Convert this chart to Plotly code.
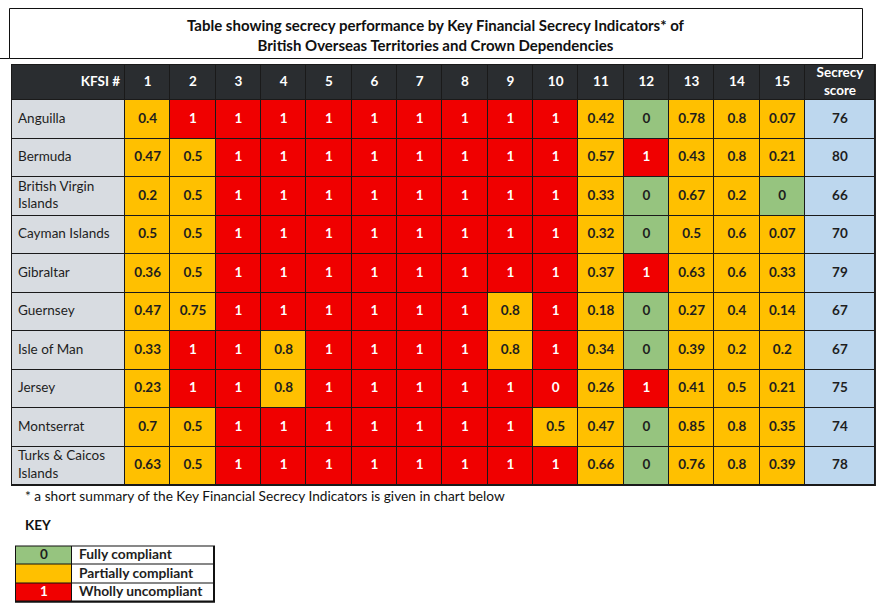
import plotly.graph_objects as go

# ---------------- data ----------------
countries = ["Anguilla", "Bermuda", "British Virgin<br>Islands", "Cayman Islands", "Gibraltar",
             "Guernsey", "Isle of Man", "Jersey", "Montserrat", "Turks & Caicos<br>Islands"]
kfsi_labels = [str(i) for i in range(1, 16)]
anguilla   = [0.4, 1, 1, 1, 1, 1, 1, 1, 1, 1, 0.42, 0, 0.78, 0.8, 0.07]
bermuda    = [0.47, 0.5, 1, 1, 1, 1, 1, 1, 1, 1, 0.57, 1, 0.43, 0.8, 0.21]
bvi        = [0.2, 0.5, 1, 1, 1, 1, 1, 1, 1, 1, 0.33, 0, 0.67, 0.2, 0]
cayman     = [0.5, 0.5, 1, 1, 1, 1, 1, 1, 1, 1, 0.32, 0, 0.5, 0.6, 0.07]
gibraltar  = [0.36, 0.5, 1, 1, 1, 1, 1, 1, 1, 1, 0.37, 1, 0.63, 0.6, 0.33]
guernsey   = [0.47, 0.75, 1, 1, 1, 1, 1, 1, 0.8, 1, 0.18, 0, 0.27, 0.4, 0.14]
isle_of_man = [0.33, 1, 1, 0.8, 1, 1, 1, 1, 0.8, 1, 0.34, 0, 0.39, 0.2, 0.2]
jersey     = [0.23, 1, 1, 0.8, 1, 1, 1, 1, 1, 0, 0.26, 1, 0.41, 0.5, 0.21]
montserrat = [0.7, 0.5, 1, 1, 1, 1, 1, 1, 1, 0.5, 0.47, 0, 0.85, 0.8, 0.35]
turks      = [0.63, 0.5, 1, 1, 1, 1, 1, 1, 1, 1, 0.66, 0, 0.76, 0.8, 0.39]
secrecy_scores = [76, 80, 66, 70, 79, 67, 67, 75, 74, 78]
# cells shown as wholly uncompliant regardless of printed value (row, KFSI #)
red_overrides = [("Jersey", 10)]

key_codes = ["0", "", "1"]
key_labels = ["Fully compliant", "Partially compliant", "Wholly uncompliant"]

title_lines = ["Table showing secrecy performance by Key Financial Secrecy Indicators* of",
               "British Overseas Territories and Crown Dependencies"]
footnote = "* a short summary of the Key Financial Secrecy Indicators is given in chart below"

# ---------------- layout constants ----------------
W, H = 883, 609
FONT = "Lato"
TBL_L = 12
NAME_W = 113
NUM_W = 45.33
SCORE_W = 70
HDR_T = 65
HDR_H = 35
ROW_H = 38.5

C_HDR = "#2a2d30"
C_NAME = "#d8dce1"
C_GREEN = "#96c47f"
C_ORANGE = "#ffc000"
C_RED = "#f00000"
C_BLUE = "#bdd7ee"
C_WHITE = "#ffffff"
C_TEXT = "#1e1e1e"

rows = [anguilla, bermuda, bvi, cayman, gibraltar, guernsey, isle_of_man, jersey, montserrat, turks]
plain_names = [c.replace("<br>", " ") for c in countries]

# column edges
x_edges = [TBL_L, TBL_L + NAME_W]
for _ in kfsi_labels:
    x_edges.append(x_edges[-1] + NUM_W)
x_edges.append(x_edges[-1] + SCORE_W)
y_edges = [HDR_T, HDR_T + HDR_H]
for _ in countries:
    y_edges.append(y_edges[-1] + ROW_H)
x_mid = [(a + b) / 2 for a, b in zip(x_edges[:-1], x_edges[1:])]
y_mid = [(a + b) / 2 for a, b in zip(y_edges[:-1], y_edges[1:])]

# categories: 0 header, 1 name, 2 green, 3 orange, 4 red, 5 blue, 6 white
palette = [C_HDR, C_NAME, C_GREEN, C_ORANGE, C_RED, C_BLUE, C_WHITE]
n_cat = len(palette)
colorscale = []
for k, c in enumerate(palette):
    lo = max(0, (k - 0.5) / (n_cat - 1))
    hi = min(1, (k + 0.5) / (n_cat - 1))
    colorscale += [[lo, c], [hi, c]]


def cat_of(v, name, k):
    if (name, k) in red_overrides:
        return 4
    if v == 0:
        return 2
    if v == 1:
        return 4
    return 3


z = [[0] * (len(kfsi_labels) + 2)]
for r, vals in enumerate(rows):
    line = [1] + [cat_of(v, plain_names[r], i + 1) for i, v in enumerate(vals)] + [5]
    z.append(line)

fig = go.Figure()

# dark grid lines behind the cells
fig.add_shape(type="rect", xref="x", yref="y", x0=x_edges[0] - 1, x1=x_edges[-1] + 1,
              y0=y_edges[0] - 1, y1=y_edges[-1] + 1, fillcolor="#1a1a1a", line_width=0, layer="below")

fig.add_trace(go.Heatmap(z=z, x=x_edges, y=y_edges, colorscale=colorscale, zmin=0, zmax=n_cat - 1,
                         showscale=False, xgap=1, ygap=1, hoverinfo="skip"))

# header text
hdr_text = ["KFSI #"] + kfsi_labels + ["Secrecy<br>score"]
fig.add_trace(go.Scatter(x=x_mid[1:], y=[y_mid[0]] * (len(x_mid) - 1), mode="text",
                         text=["<b>%s</b>" % t for t in hdr_text[1:]],
                         textfont=dict(family=FONT, size=13.5, color=C_WHITE),
                         hoverinfo="skip", showlegend=False))
fig.add_trace(go.Scatter(x=[x_edges[1] - 5], y=[y_mid[0]], mode="text", text=["<b>KFSI #</b>"],
                         textposition="middle left",
                         textfont=dict(family=FONT, size=13.5, color=C_WHITE),
                         hoverinfo="skip", showlegend=False))

# country names
fig.add_trace(go.Scatter(x=[TBL_L + 6] * len(countries), y=y_mid[1:], mode="text",
                         text=countries, textposition="middle right",
                         textfont=dict(family=FONT, size=13.5, color=C_TEXT),
                         hoverinfo="skip", showlegend=False))


def fmt(v):
    return ("%g" % v)


cx, cy, ct, cc = [], [], [], []
for r, vals in enumerate(rows):
    for i, v in enumerate(vals):
        cx.append(x_mid[i + 1])
        cy.append(y_mid[r + 1])
        ct.append("<b>%s</b>" % fmt(v))
        cc.append(C_WHITE if z[r + 1][i + 1] == 4 else C_TEXT)
    cx.append(x_mid[-1])
    cy.append(y_mid[r + 1])
    ct.append("<b>%d</b>" % secrecy_scores[r])
    cc.append(C_TEXT)
fig.add_trace(go.Scatter(x=cx, y=cy, mode="text", text=ct,
                         textfont=dict(family=FONT, size=13.5, color=cc),
                         hoverinfo="skip", showlegend=False))

# title box
fig.add_shape(type="rect", xref="x", yref="y", x0=9.5, x1=862.5, y0=8.5, y1=58.5,
              line=dict(color="#111111", width=1), fillcolor="rgba(0,0,0,0)")
fig.add_shape(type="line", xref="x", yref="y", x0=0, x1=9.5, y0=58.5, y1=58.5,
              line=dict(color="#111111", width=1))
fig.add_annotation(x=436, y=35, xref="x", yref="y", showarrow=False,
                   text="<b>%s</b>" % "<br>".join(title_lines),
                   font=dict(family=FONT, size=15, color="#111111"), align="center")

# footnote and KEY
fig.add_annotation(x=23, y=495, xref="x", yref="y", showarrow=False, xanchor="left",
                   text=footnote, font=dict(family=FONT, size=13.7, color="#111111"))
fig.add_annotation(x=23, y=525, xref="x", yref="y", showarrow=False, xanchor="left",
                   text="<b>KEY</b>", font=dict(family=FONT, size=13.5, color="#111111"))

# key table
KEY_L, KEY_M, KEY_R = 16, 72, 214
KEY_T, KEY_RH = 546.5, 18.4
ky_edges = [KEY_T + k * KEY_RH for k in range(len(key_labels) + 1)]
ky_mid = [(a + b) / 2 for a, b in zip(ky_edges[:-1], ky_edges[1:])]
key_cats = [2, 3, 4]
fig.add_shape(type="rect", xref="x", yref="y", x0=KEY_L - 1, x1=KEY_R + 1,
              y0=ky_edges[0] - 1, y1=ky_edges[-1] + 1, fillcolor="#111111", line_width=0, layer="below")
fig.add_trace(go.Heatmap(z=[[c, 6] for c in key_cats], x=[KEY_L, KEY_M, KEY_R], y=ky_edges,
                         colorscale=colorscale, zmin=0, zmax=n_cat - 1, showscale=False,
                         xgap=1, ygap=1, hoverinfo="skip"))
fig.add_trace(go.Scatter(x=[(KEY_L + KEY_M) / 2] * 3, y=ky_mid, mode="text",
                         text=["<b>%s</b>" % c for c in key_codes],
                         textfont=dict(family=FONT, size=13.5, color=[C_TEXT, C_TEXT, C_WHITE]),
                         hoverinfo="skip", showlegend=False))
fig.add_trace(go.Scatter(x=[KEY_M + 7] * 3, y=ky_mid, mode="text", textposition="middle right",
                         text=["<b>%s</b>" % t for t in key_labels],
                         textfont=dict(family=FONT, size=13.8, color=C_TEXT),
                         hoverinfo="skip", showlegend=False))

fig.update_layout(width=W, height=H, margin=dict(l=0, r=0, t=0, b=0),
                  paper_bgcolor="white", plot_bgcolor="white", showlegend=False,
                  xaxis=dict(range=[0, W], visible=False, fixedrange=True),
                  yaxis=dict(range=[H, 0], visible=False, fixedrange=True))

fig.write_html("out.html", config={"displayModeBar": False},
               post_script="document.body.style.margin='0';document.body.style.overflow='hidden';")
